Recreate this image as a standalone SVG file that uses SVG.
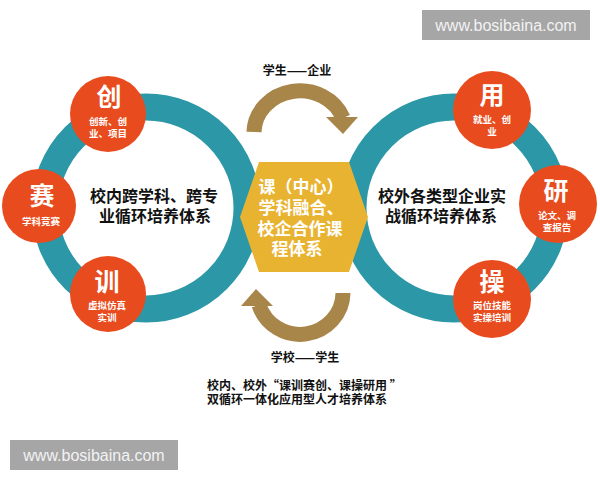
<svg xmlns="http://www.w3.org/2000/svg" width="600" height="480" viewBox="0 0 600 480">
<style>
.ring{fill:none;stroke:#2C97A6;stroke-width:27}
.red{fill:#E84C1E}
.big{font-family:"Noto Sans CJK SC","Noto Sans",sans-serif;font-weight:700;font-size:25px;fill:#fff;text-anchor:middle}
.sm{font-family:"Noto Sans CJK SC","Noto Sans",sans-serif;font-weight:700;font-size:9.5px;fill:#fff;text-anchor:middle}
.lbl{font-family:"Noto Sans CJK SC","Noto Sans",sans-serif;font-weight:700;font-size:16px;fill:#111;text-anchor:middle}
.hex{font-family:"Noto Sans CJK SC","Noto Sans",sans-serif;font-weight:700;font-size:17px;fill:#fff;text-anchor:middle}
.cap{font-family:"Noto Sans CJK SC","Noto Sans",sans-serif;font-weight:700;font-size:12px;fill:#111}
.arc{fill:none;stroke:#A8864A;stroke-width:15}
.head{fill:#A8864A}
.wm{fill:#A6A6A6}
.wmt{font-family:"Liberation Sans",Arial,sans-serif;font-size:16px;fill:#F2F2F2}
</style>
<rect width="600" height="480" fill="#fff"/>
<g id="left-loop">
<circle class="ring" cx="146" cy="208" r="101"/>
<text class="lbl" x="154" y="202">校内跨学科、跨专</text>
<text class="lbl" x="155" y="222">业循环培养体系</text>
</g>
<g id="right-loop">
<circle class="ring" cx="454" cy="208" r="101"/>
<text class="lbl" x="442" y="202">校外各类型企业实</text>
<text class="lbl" x="441" y="222">战循环培养体系</text>
</g>
<g id="connectors">
<path class="arc" d="M254,132 A46,42 0 0 1 343,118"/>
<polygon class="head" points="326,117 358,117 343,134"/>
<path class="arc" d="M343,293 A43,42 0 0 1 259,305"/>
<polygon class="head" points="241,306 273,306 256,289"/>
<text class="cap" x="297" y="75" text-anchor="middle">学生——企业</text>
<text class="cap" x="305" y="362" text-anchor="middle">学校——学生</text>
</g>
<g id="center">
<polygon points="240,217 259,162 349,162 368,217 349,272 259,272" fill="#E9B332"/>
<text class="hex" x="301" y="193">课（中心）</text>
<text class="hex" x="301" y="214">学科融合、</text>
<text class="hex" x="300" y="235">校企合作课</text>
<text class="hex" x="297" y="255">程体系</text>
</g>
<g id="chuang">
<circle class="red" cx="108" cy="114" r="38"/>
<text class="big" x="109" y="106">创</text>
<text class="sm" x="108" y="125">创新、创</text>
<text class="sm" x="108" y="137">业、项目</text>
</g>
<g id="sai">
<circle class="red" cx="39" cy="206" r="37"/>
<text class="big" x="42" y="205">赛</text>
<text class="sm" x="41" y="225">学科竞赛</text>
</g>
<g id="xun">
<circle class="red" cx="108" cy="294" r="38"/>
<text class="big" x="107" y="291">训</text>
<text class="sm" x="107" y="309">虚拟仿真</text>
<text class="sm" x="107" y="321">实训</text>
</g>
<g id="yong">
<circle class="red" cx="492" cy="110" r="39"/>
<text class="big" x="492" y="104">用</text>
<text class="sm" x="492" y="123">就业、创</text>
<text class="sm" x="492" y="135">业</text>
</g>
<g id="yan">
<circle class="red" cx="558" cy="204" r="39"/>
<text class="big" x="556" y="200">研</text>
<text class="sm" x="557" y="219">论文、调</text>
<text class="sm" x="557" y="231">查报告</text>
</g>
<g id="cao">
<circle class="red" cx="492" cy="299" r="39"/>
<text class="big" x="492" y="291">操</text>
<text class="sm" x="492" y="309">岗位技能</text>
<text class="sm" x="492" y="321">实操培训</text>
</g>
<g id="caption">
<text class="cap" x="207" y="390">校内、校外“课训赛创、课操研用 ”</text>
<text class="cap" x="207" y="404">双循环一体化应用型人才培养体系</text>
</g>
<g id="watermarks">
<rect class="wm" x="422" y="10" width="168" height="30"/>
<text class="wmt" x="506" y="31" text-anchor="middle">www.bosibaina.com</text>
<rect class="wm" x="10" y="440" width="168" height="30"/>
<text class="wmt" x="94" y="461" text-anchor="middle">www.bosibaina.com</text>
</g>
</svg>
